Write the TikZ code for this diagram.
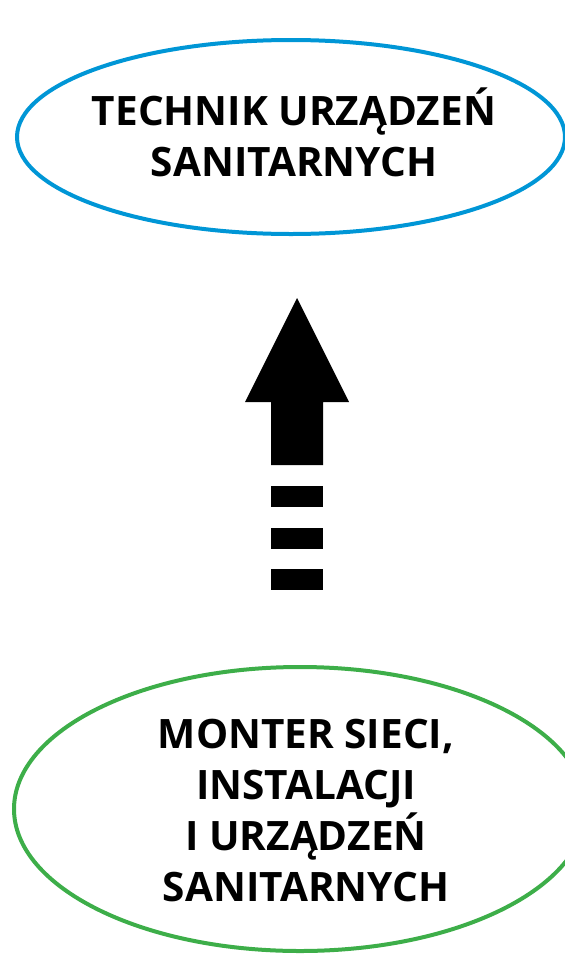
\documentclass[tikz,border=0pt]{standalone}
\usepackage{fontspec}
\setmainfont{Open Sans}
\usetikzlibrary{shapes.geometric}
\definecolor{topblue}{RGB}{0,150,214}
\definecolor{botgreen}{RGB}{61,174,73}
\tikzset{
  ovalbox/.style={draw, ellipse, line width=4pt, inner sep=0pt},
  label text/.style={font=\bfseries\fontsize{40.5}{51}\selectfont, align=center, inner sep=0pt},
  arrowfill/.style={fill=black, draw=none}
}
\begin{document}
\begin{tikzpicture}[x=1pt,y=-1pt]
\useasboundingbox (0,0) rectangle (565,956);
\clip (0,0) rectangle (565,956);
\node[ovalbox, draw=topblue, minimum width=548pt, minimum height=194pt] (top) at (291,137) {};
\node[label text] (toptext) at (294,132) {TECHNIK URZĄDZEŃ\\SANITARNYCH};
\node[ovalbox, draw=botgreen, minimum width=572pt, minimum height=284pt] (bot) at (300,809) {};
\node[label text] (bottext) at (306,811) {MONTER SIECI,\\INSTALACJI\\I URZĄDZEŃ\\SANITARNYCH};
\coordinate (tip) at (297,298);
\fill[arrowfill] (tip) -- (349,402) -- (323,402) -- (323,465) -- (271,465) -- (271,402) -- (245,402) -- cycle;
\fill[arrowfill] (271,486) rectangle (323,507);
\fill[arrowfill] (271,528) rectangle (323,549);
\fill[arrowfill] (271,569) rectangle (323,590);
\end{tikzpicture}
\end{document}
